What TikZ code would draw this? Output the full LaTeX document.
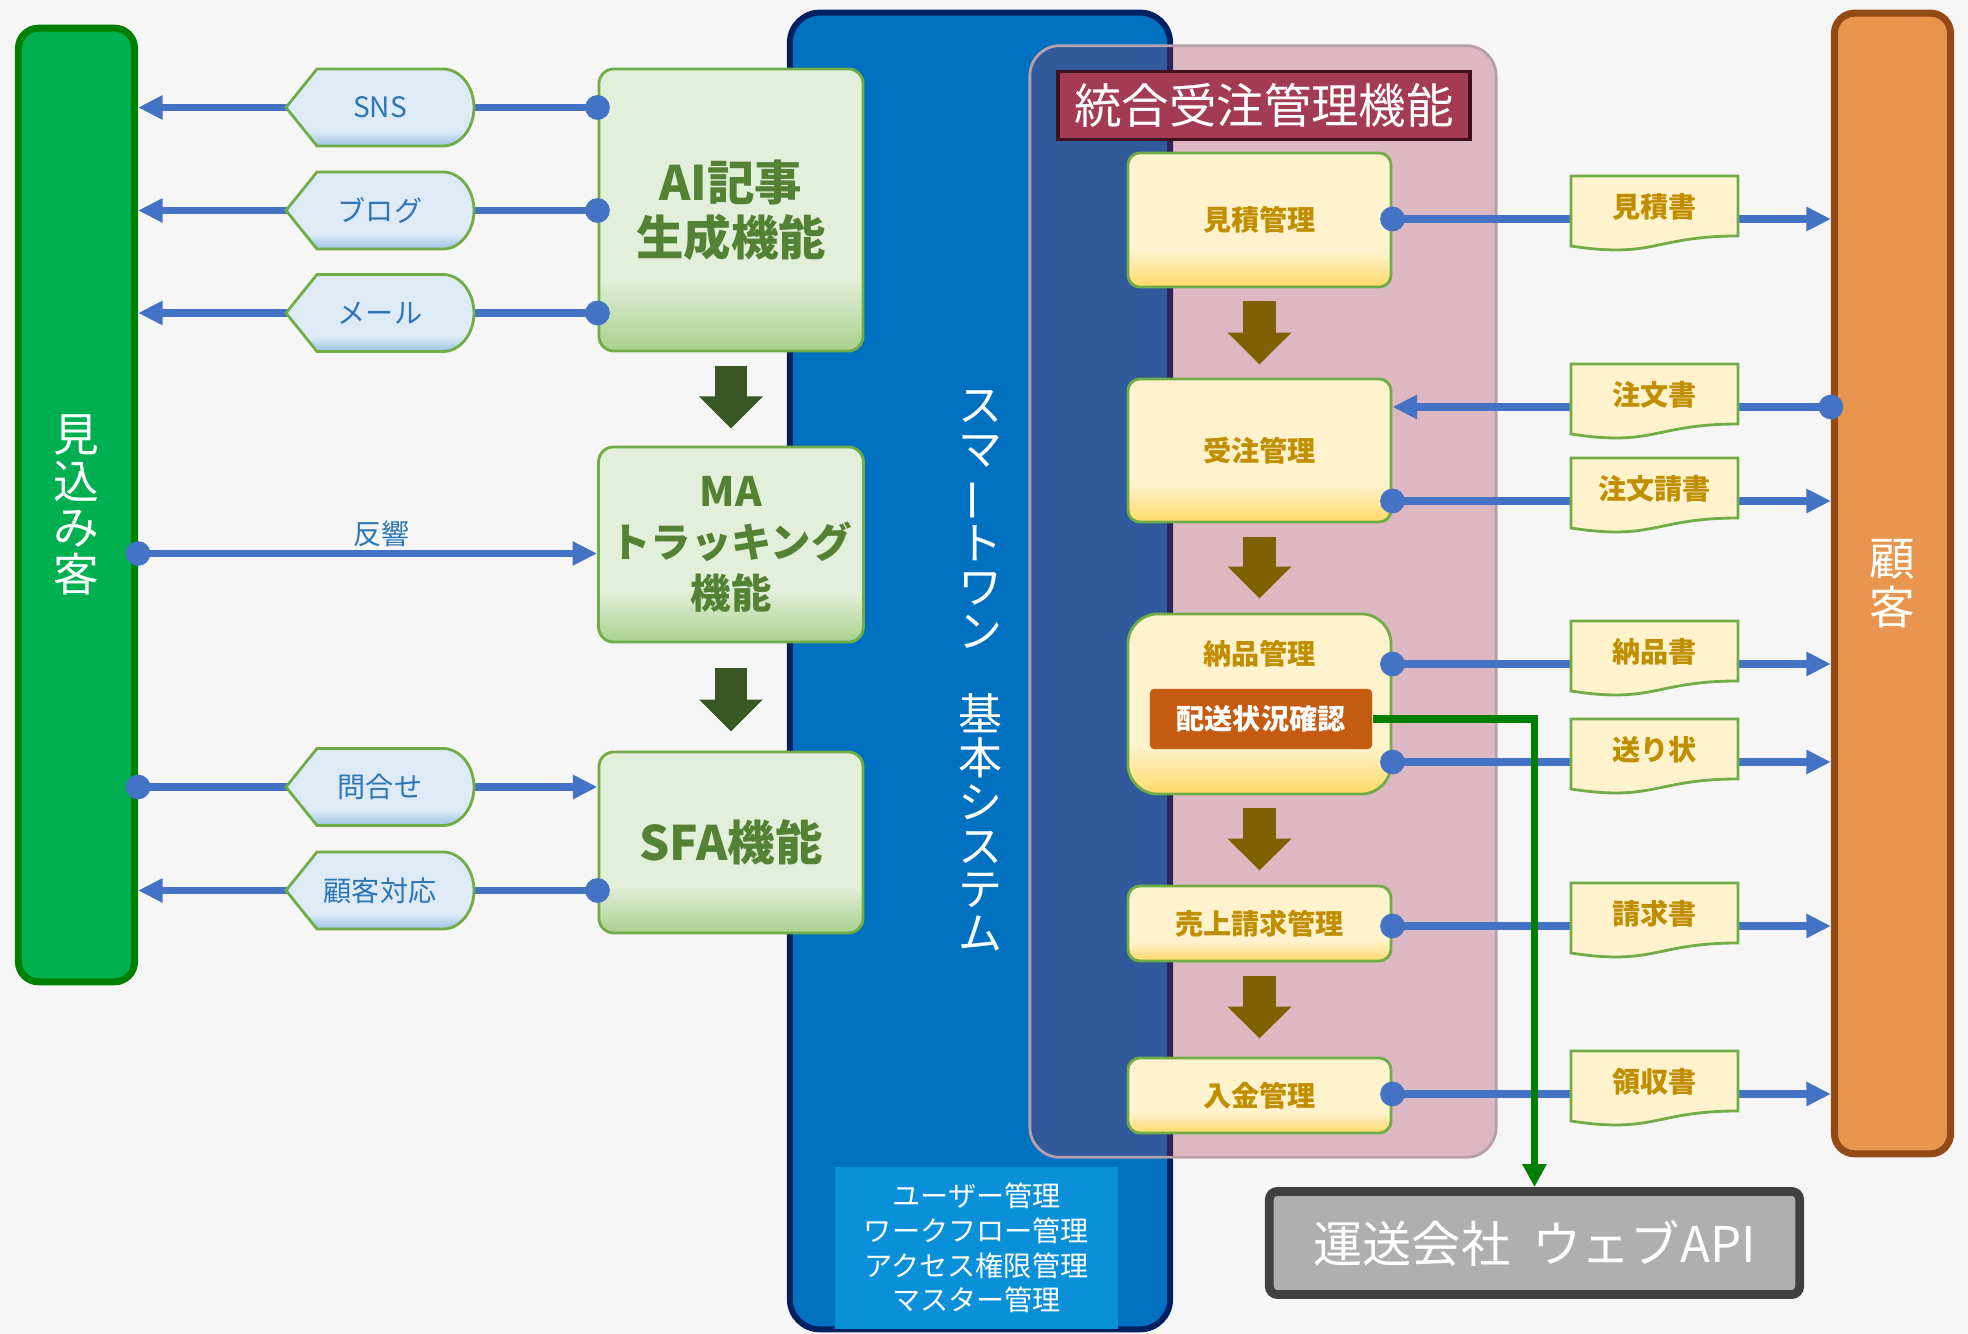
\documentclass[tikz,border=0pt]{standalone}
\usepackage{fontspec}
\setmainfont{Noto Sans CJK JP}
\usepackage{xcolor}
\usepackage{tikz}
\usetikzlibrary{arrows.meta,positioning,calc,backgrounds}

\definecolor{paper}{HTML}{F6F6F6}
\definecolor{leadgreen}{HTML}{00B050}
\definecolor{leadedge}{HTML}{008000}
\definecolor{custorange}{HTML}{E8964F}
\definecolor{custedge}{HTML}{934A15}
\definecolor{sysblue}{HTML}{0070C0}
\definecolor{sysedge}{HTML}{002060}
\definecolor{adminblue}{HTML}{0990D8}
\definecolor{crimson}{HTML}{A52A4E}
\definecolor{pinkedge}{HTML}{B8A0A8}
\definecolor{headred}{HTML}{A33B52}
\definecolor{headedge}{HTML}{40101E}
\definecolor{leafgreen}{HTML}{70AD47}
\definecolor{moss}{HTML}{548235}
\definecolor{gboxtop}{HTML}{E2EFDA}
\definecolor{gboxbot}{HTML}{A9D18E}
\definecolor{yboxtop}{HTML}{FFF2CC}
\definecolor{yboxbot}{HTML}{FFD966}
\definecolor{hextop}{HTML}{DEEBF7}
\definecolor{hexbot}{HTML}{9DC3E6}
\definecolor{hexink}{HTML}{2E75B6}
\definecolor{inkgold}{HTML}{BF8F00}
\definecolor{lineblue}{HTML}{4472C4}
\definecolor{shiporange}{HTML}{C55A11}
\definecolor{shipgreen}{HTML}{008000}
\definecolor{apigray}{HTML}{AFAFAF}
\definecolor{apiedge}{HTML}{404040}
\definecolor{darkleaf}{HTML}{385723}
\definecolor{browngold}{HTML}{7F6000}

\pgfdeclareverticalshading{gboxshade}{100bp}{color(0bp)=(gboxbot); color(25bp)=(gboxbot); color(38bp)=(gboxtop); color(100bp)=(gboxtop)}
\pgfdeclareverticalshading{yboxshade}{100bp}{color(0bp)=(yboxbot); color(25bp)=(yboxbot); color(38bp)=(yboxtop); color(100bp)=(yboxtop)}
\pgfdeclareverticalshading{hexshade}{100bp}{color(0bp)=(hexbot); color(25bp)=(hexbot); color(35bp)=(hextop); color(100bp)=(hextop)}

\pgfdeclarelayer{wire}
\pgfdeclarelayer{front}
\pgfsetlayers{background,main,wire,front}

\tikzset{
  greenbox/.style={draw=leafgreen, line width=0.8pt, rounded corners=0.15cm,
    shade, shading=gboxshade, text=moss, minimum width=2.64cm, align=center},
  procbox/.style={draw=leafgreen, line width=0.8pt, rounded corners=0.12cm,
    shade, shading=yboxshade, text=inkgold, minimum width=2.63cm,
    font=\fontsize{8pt}{9pt}\selectfont\bfseries},
  hexshape/.style={draw=leafgreen, line width=0.8pt, shading=hexshade},
  hextext/.style={text=hexink, font=\fontsize{8pt}{9pt}\selectfont},
  docshape/.style={draw=leafgreen, line width=0.8pt, fill=yboxtop},
  docbody/.style={inner sep=0pt, minimum size=0pt},
  doctext/.style={text=inkgold, font=\fontsize{8pt}{9pt}\selectfont\bfseries},
  flowline/.style={draw=lineblue, line width=2pt, shorten <=-3.5pt,
    {Circle[length=7pt]}-{Triangle[length=7pt,width=6.5pt]}},
  bigdown/.style={line width=0.32cm, -{Triangle[length=0.32cm,width=0.62cm]}},
  shipline/.style={draw=shipgreen, line width=2pt, -{Triangle[length=6.5pt,width=6.5pt]}}
}

% label with pointed left side and round right side
\newcommand\hexnote[4]{%
  \shadedraw[hexshape] (#2-94,#3) -- (#2-63,#3-38.5) -- (#2+63,#3-38.5)
    .. controls (#2+80,#3-38.5) and (#2+94,#3-21) .. (#2+94,#3)
    .. controls (#2+94,#3+21) and (#2+80,#3+38.5) .. (#2+63,#3+38.5)
    -- (#2-63,#3+38.5) -- cycle;
  \node[hextext] (#1) at (#2,#3) {#4};}

% document sheet with wavy lower edge
\newcommand\docnote[4]{%
  \filldraw[docshape] (#2,#3) -- (#2+167,#3) -- (#2+167,#3+60)
    .. controls (#2+83.5,#3+60) and (#2+83.5,#3+83) .. (#2,#3+70) -- cycle;
  \node[docbody, label={[doctext,yshift=0.12cm]center:#4}] (#1) at (#2+83.5,#3+43) {};}

\begin{document}
\begin{tikzpicture}[x=0.01cm,y=-0.01cm]
  \fill[paper] (0,0) rectangle (1968,1334);
  \useasboundingbox (0,0) rectangle (1968,1334);

  % panels
  \node[fill=sysblue, draw=sysedge, line width=1.7pt, rounded corners=0.3cm,
    minimum width=3.80cm, minimum height=13.16cm, text=white, align=center,
    font=\fontsize{12.5pt}{12.5pt}\selectfont] (basesys) at (980,671)
    {ス\\マ\\\rotatebox[origin=c]{90}{ー}\\ト\\ワ\\ン\\[11pt]基\\本\\シ\\ス\\テ\\ム};
  \node[fill=adminblue, minimum width=2.83cm, minimum height=1.62cm, text=white,
    align=center, font=\fontsize{8pt}{9.9pt}\selectfont] (admin) at (976.5,1248)
    {ユーザー管理\\ワークフロー管理\\アクセス権限管理\\マスター管理};
  \node[draw=pinkedge, line width=0.8pt, fill=crimson, fill opacity=0.3,
    rounded corners=0.3cm, minimum width=4.66cm, minimum height=11.11cm]
    (ordersys) at (1263,601.5) {};
  \node[fill=headred, draw=headedge, line width=1pt, minimum width=4.12cm,
    minimum height=0.67cm, text=white, font=\fontsize{13.5pt}{14pt}\selectfont]
    (orderhead) at (1264,105.5) {統合受注管理機能};

  \node[fill=leadgreen, draw=leadedge, line width=2pt, rounded corners=0.2cm,
    minimum width=1.16cm, minimum height=9.53cm, text=white, align=center,
    font=\fontsize{13pt}{13.3pt}\selectfont] (prospect) at (76.5,505)
    {見\\込\\み\\客};
  \node[fill=custorange, draw=custedge, line width=2pt, rounded corners=0.2cm,
    minimum width=1.16cm, minimum height=11.40cm, text=white, align=center,
    font=\fontsize{13pt}{13.9pt}\selectfont] (customer) at (1892.5,583.5)
    {顧\\客};

  % marketing side
  \node[greenbox, minimum height=2.82cm, font=\fontsize{13.5pt}{15.6pt}\selectfont\bfseries]
    (aibox) at (731,210) {AI記事\\生成機能};
  \node[greenbox, minimum height=1.95cm, font=\fontsize{11.5pt}{14.5pt}\selectfont\bfseries]
    (ma) at (731,544.5) {MA\\トラッキング\\機能};
  \node[greenbox, minimum height=1.81cm, font=\fontsize{13.5pt}{15.6pt}\selectfont\bfseries]
    (sfa) at (731,842.5) {SFA機能};

  \draw[bigdown, draw=darkleaf, shorten <=0.14cm, shorten >=0.17cm] (aibox.south) -- (ma.north);
  \draw[bigdown, draw=darkleaf, shorten <=0.25cm, shorten >=0.19cm] (ma.south) -- (sfa.north);

  % order side
  \node[procbox, minimum height=1.34cm] (estim) at (1259.5,220) {見積管理};
  \node[procbox, minimum height=1.43cm] (ordermg) at (1259.5,450.5) {受注管理};
  \node[procbox, minimum height=1.80cm, rounded corners=0.3cm,
    label={[procbox, draw=none, shading=none, shade=false, yshift=0.5cm]center:納品管理}]
    (delivery) at (1259.5,704) {};
  \node[fill=shiporange, rounded corners=0.04cm, minimum width=2.22cm,
    minimum height=0.60cm, text=white, font=\fontsize{8pt}{9pt}\selectfont\bfseries]
    (haiso) at (1261,719) {配送状況確認};
  \node[procbox, minimum height=0.75cm] (sales) at (1259.5,923.5) {売上請求管理};
  \node[procbox, minimum height=0.75cm] (payment) at (1259.5,1095.5) {入金管理};

  \draw[bigdown, draw=browngold, shorten <=0.13cm, shorten >=0.13cm] (estim.south) -- (ordermg.north);
  \draw[bigdown, draw=browngold, shorten <=0.14cm, shorten >=0.14cm] (ordermg.south) -- (delivery.north);
  \draw[bigdown, draw=browngold, shorten <=0.13cm, shorten >=0.14cm] (delivery.south) -- (sales.north);
  \draw[bigdown, draw=browngold, shorten <=0.14cm, shorten >=0.18cm] (sales.south) -- (payment.north);

  \node[fill=apigray, draw=apiedge, line width=2.5pt, rounded corners=0.08cm,
    minimum width=5.30cm, minimum height=1.03cm, text=white,
    font=\fontsize{14pt}{15pt}\selectfont] (api) at (1534.5,1243) {運送会社\hspace{0.45em}ウェブAPI};

  % labels on the connectors
  \begin{pgfonlayer}{front}
    \hexnote{sns}{380}{107.5}{SNS}
    \hexnote{blog}{380}{210.5}{ブログ}
    \hexnote{mail}{380}{313}{メール}
    \hexnote{inquiry}{380}{787}{問合せ}
    \hexnote{support}{380}{890.5}{顧客対応}

    \docnote{quote}{1571}{176}{見積書}
    \docnote{order}{1571}{364}{注文書}
    \docnote{ack}{1571}{458}{注文請書}
    \docnote{dnote}{1571}{621}{納品書}
    \docnote{slip}{1571}{719}{送り状}
    \docnote{invoice}{1571}{883}{請求書}
    \docnote{receipt}{1571}{1051}{領収書}
  \end{pgfonlayer}

  % connectors
  \begin{pgfonlayer}{wire}
    \draw[flowline] (sns -| aibox.west) -- (sns -| prospect.east);
    \draw[flowline] (blog -| aibox.west) -- (blog -| prospect.east);
    \draw[flowline] (mail -| aibox.west) -- (mail -| prospect.east);
    \draw[flowline] ([yshift=-0.09cm]ma.west -| prospect.east) -- node[pos=0.53, above, inner sep=1pt, hextext] (echo) {反響} ([yshift=-0.09cm]ma.west);
    \draw[flowline] (inquiry -| prospect.east) -- (inquiry -| sfa.west);
    \draw[flowline] (support -| sfa.west) -- (support -| prospect.east);

    \draw[flowline] (quote -| estim.east) -- (quote -| customer.west);
    \draw[flowline] (order -| customer.west) -- (order -| ordermg.east);
    \draw[flowline] (ack -| ordermg.east) -- (ack -| customer.west);
    \draw[flowline] (dnote -| delivery.east) -- (dnote -| customer.west);
    \draw[flowline] (slip -| delivery.east) -- (slip -| customer.west);
    \draw[flowline] (invoice -| sales.east) -- (invoice -| customer.west);
    \draw[flowline] (receipt -| payment.east) -- (receipt -| customer.west);

    \draw[shipline] (haiso.east) -| (api.north);
  \end{pgfonlayer}
\end{tikzpicture}
\end{document}
